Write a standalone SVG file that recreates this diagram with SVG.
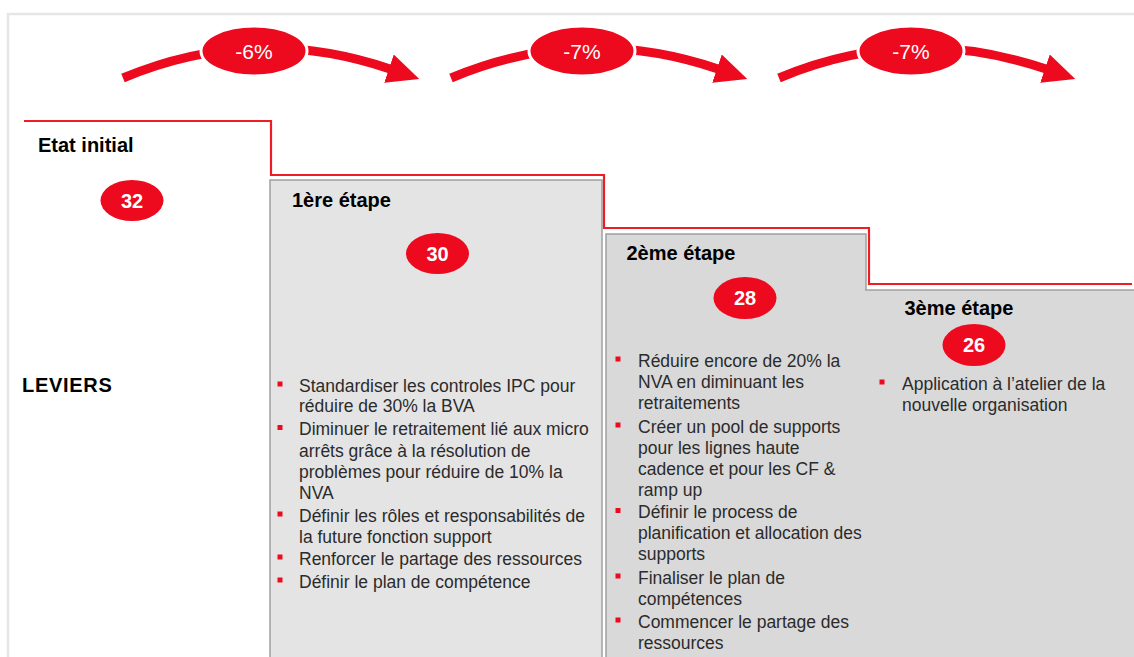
<svg xmlns="http://www.w3.org/2000/svg" width="1134" height="657" viewBox="0 0 1134 657">
<style>
.hd{font-family:"Liberation Sans",Arial,sans-serif;font-weight:bold;font-size:20px;fill:#000}
.bt{font-family:"Liberation Sans",Arial,sans-serif;font-size:17.5px;fill:#2b2b2b}
.num{font-family:"Liberation Sans",Arial,sans-serif;font-weight:bold;font-size:20px;fill:#fff;text-anchor:middle}
.pct{font-family:"Liberation Sans",Arial,sans-serif;font-size:21px;fill:#fff;text-anchor:middle}
.badge{fill:#ee0a1e}
.pbadge{fill:#ee0a1e;stroke:#fff;stroke-width:3}
.bul{fill:#ee0a1e}
.arc{fill:none;stroke:#ee0a1e;stroke-width:9;marker-end:url(#ah)}
.box{stroke:#a0a0a0;stroke-width:1.5}
</style>
<defs>
<marker id="ah" markerUnits="userSpaceOnUse" markerWidth="32" markerHeight="30" viewBox="0 0 30 28" refX="1" refY="14" orient="auto">
<path d="M0,0 L30,14 L0,28 z" fill="#ee0a1e"/>
</marker>
</defs>
<rect width="1134" height="657" fill="#fff"/>
<path d="M8,657 V14 H1134" fill="none" stroke="#e6e6e6" stroke-width="2.5"/>

<g id="box-etape1">
<rect class="box" x="270" y="180" width="332" height="490" fill="#e4e4e4"/>
<text class="hd" x="292" y="207">1ère étape</text>
<ellipse class="badge" cx="437.5" cy="253.5" rx="31.5" ry="20.5"/>
<text class="num" x="437.5" y="260.5">30</text>
<g class="bul">
<rect x="277.5" y="381.5" width="5" height="5"/>
<rect x="277.5" y="425" width="5" height="5"/>
<rect x="277.5" y="511.5" width="5" height="5"/>
<rect x="277.5" y="554.5" width="5" height="5"/>
<rect x="277.5" y="577.5" width="5" height="5"/>
</g>
<text class="bt" x="299">
<tspan x="299" y="391.5">Standardiser les controles IPC pour</tspan>
<tspan x="299" y="412">réduire de 30% la BVA</tspan>
<tspan x="299" y="435">Diminuer le retraitement lié aux micro</tspan>
<tspan x="299" y="456.5">arrêts grâce à la résolution de</tspan>
<tspan x="299" y="477.5">problèmes pour réduire de 10% la</tspan>
<tspan x="299" y="498.5">NVA</tspan>
<tspan x="299" y="521.5">Définir les rôles et responsabilités de</tspan>
<tspan x="299" y="542.5">la future fonction support</tspan>
<tspan x="299" y="564.5">Renforcer le partage des ressources</tspan>
<tspan x="299" y="587.5">Définir le plan de compétence</tspan>
</text>
</g>

<g id="box-etape2">
<rect class="box" x="606" y="234" width="260" height="440" fill="#d9d9d9"/>
<text class="hd" x="626.5" y="260">2ème étape</text>
<ellipse class="badge" cx="745" cy="298" rx="31.5" ry="21"/>
<text class="num" x="745" y="305">28</text>
<g class="bul">
<rect x="615.5" y="356.5" width="5" height="5"/>
<rect x="615.5" y="422.5" width="5" height="5"/>
<rect x="615.5" y="508" width="5" height="5"/>
<rect x="615.5" y="573.5" width="5" height="5"/>
<rect x="615.5" y="617.5" width="5" height="5"/>
</g>
<text class="bt" x="638">
<tspan x="638" y="366.5">Réduire encore de 20% la</tspan>
<tspan x="638" y="387.5">NVA  en diminuant les</tspan>
<tspan x="638" y="408.5">retraitements</tspan>
<tspan x="638" y="432.5">Créer un pool de supports</tspan>
<tspan x="638" y="453.5">pour les lignes haute</tspan>
<tspan x="638" y="474.5">cadence et pour les CF &amp;</tspan>
<tspan x="638" y="495.5">ramp up</tspan>
<tspan x="638" y="518">Définir le process de</tspan>
<tspan x="638" y="539">planification et allocation des</tspan>
<tspan x="638" y="560">supports</tspan>
<tspan x="638" y="583.5">Finaliser le plan de</tspan>
<tspan x="638" y="604.5">compétences</tspan>
<tspan x="638" y="627.5">Commencer le partage des</tspan>
<tspan x="638" y="648.5">ressources</tspan>
</text>
</g>

<g id="box-etape3">
<rect x="865" y="290" width="272" height="380" fill="#d9d9d9"/>
<path d="M865,290 H1136" fill="none" stroke="#a0a0a0" stroke-width="1.5"/>
<text class="hd" x="904.5" y="315">3ème étape</text>
<ellipse class="badge" cx="974" cy="345" rx="31.5" ry="21"/>
<text class="num" x="974" y="352">26</text>
<rect class="bul" x="879.5" y="379.5" width="5" height="5"/>
<text class="bt" x="902">
<tspan x="902" y="389.5">Application à l’atelier de la</tspan>
<tspan x="902" y="410.5">nouvelle organisation</tspan>
</text>
</g>

<g id="etat-initial">
<text class="hd" x="38" y="152">Etat initial</text>
<ellipse class="badge" cx="132" cy="200.5" rx="31.5" ry="20.5"/>
<text class="num" x="132" y="207.5">32</text>
</g>

<g id="leviers">
<text class="hd" x="22" y="392" style="letter-spacing:0.7px">LEVIERS</text>
</g>

<g id="step-line">
<path d="M24,121 H271 V175 H604 V228 H869 V284 H1132" fill="none" stroke="#ee1c25" stroke-width="2.2"/>
</g>

<g id="connectors">
<path class="arc" d="M123,78 Q254,23 390,69"/>
<path class="arc" d="M451,78 Q582,23 718,69"/>
<path class="arc" d="M779,78 Q910,23 1046,69"/>
</g>

<g id="pct-1">
<ellipse class="pbadge" cx="254" cy="51" rx="53" ry="25"/>
<text class="pct" x="254" y="58.5">-6%</text>
</g>
<g id="pct-2">
<ellipse class="pbadge" cx="582" cy="51" rx="53" ry="25"/>
<text class="pct" x="582" y="58.5">-7%</text>
</g>
<g id="pct-3">
<ellipse class="pbadge" cx="911" cy="51" rx="53" ry="25"/>
<text class="pct" x="911" y="58.5">-7%</text>
</g>
</svg>
